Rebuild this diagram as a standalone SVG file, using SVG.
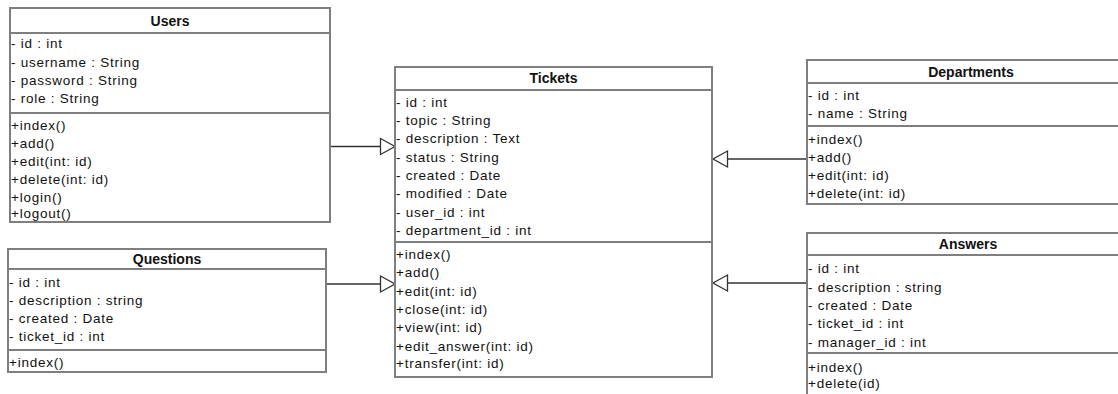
<svg xmlns="http://www.w3.org/2000/svg" width="1118" height="394" viewBox="0 0 1118 394">
<style>
.box{fill:#fff;stroke:#7f7f7f;stroke-width:2}
.sep{stroke:#7f7f7f;stroke-width:2}
.t{font-family:"Liberation Sans",Arial,sans-serif;font-size:13.5px;letter-spacing:0.75px;fill:#111}
.h{font-family:"Liberation Sans",Arial,sans-serif;font-size:14px;font-weight:bold;fill:#111;text-anchor:middle}
.c{stroke:#333;stroke-width:1.3;fill:none}
</style>
<defs>
<marker id="tri" markerUnits="userSpaceOnUse" markerWidth="16" markerHeight="18" refX="15" refY="8.5" orient="auto" overflow="visible">
<path d="M0.5,0.5 L15,8.5 L0.5,16.5 Z" fill="#fff" stroke="#333" stroke-width="1.3"/>
</marker>
</defs>
<rect width="1118" height="394" fill="#fff"/>
<g id="connectors">
<line class="c" x1="330" y1="146.5" x2="395" y2="146.5" marker-end="url(#tri)"/>
<line class="c" x1="326" y1="284" x2="395" y2="284" marker-end="url(#tri)"/>
<line class="c" x1="807" y1="159" x2="713" y2="159" marker-end="url(#tri)"/>
<line class="c" x1="807" y1="283" x2="713" y2="283" marker-end="url(#tri)"/>
</g>
<g id="users">
<rect class="box" x="10" y="8" width="320" height="214"/>
<line class="sep" x1="10" y1="33" x2="330" y2="33"/>
<line class="sep" x1="10" y1="113" x2="330" y2="113"/>
<text class="h" x="170" y="26">Users</text>
<text class="t" x="11" y="48">- id : int</text>
<text class="t" x="11" y="67">- username : String</text>
<text class="t" x="11" y="85">- password : String</text>
<text class="t" x="11" y="103">- role : String</text>
<text class="t" x="11" y="130">+index()</text>
<text class="t" x="11" y="148">+add()</text>
<text class="t" x="11" y="166">+edit(int: id)</text>
<text class="t" x="11" y="184">+delete(int: id)</text>
<text class="t" x="11" y="202">+login()</text>
<text class="t" x="11" y="218">+logout()</text>
</g>
<g id="questions">
<rect class="box" x="8" y="249" width="318" height="123"/>
<line class="sep" x1="8" y1="269" x2="326" y2="269"/>
<line class="sep" x1="8" y1="350" x2="326" y2="350"/>
<text class="h" x="167" y="264">Questions</text>
<text class="t" x="9" y="287">- id : int</text>
<text class="t" x="9" y="305">- description : string</text>
<text class="t" x="9" y="323">- created : Date</text>
<text class="t" x="9" y="341">- ticket_id : int</text>
<text class="t" x="9" y="367">+index()</text>
</g>
<g id="tickets">
<rect class="box" x="395" y="67" width="317" height="310"/>
<line class="sep" x1="395" y1="90" x2="712" y2="90"/>
<line class="sep" x1="395" y1="242" x2="712" y2="242"/>
<text class="h" x="553.5" y="83">Tickets</text>
<text class="t" x="396" y="107">- id : int</text>
<text class="t" x="396" y="125">- topic : String</text>
<text class="t" x="396" y="143">- description : Text</text>
<text class="t" x="396" y="162">- status : String</text>
<text class="t" x="396" y="180">- created : Date</text>
<text class="t" x="396" y="198">- modified : Date</text>
<text class="t" x="396" y="217">- user_id : int</text>
<text class="t" x="396" y="235">- department_id : int</text>
<text class="t" x="396" y="259">+index()</text>
<text class="t" x="396" y="277">+add()</text>
<text class="t" x="396" y="296">+edit(int: id)</text>
<text class="t" x="396" y="314">+close(int: id)</text>
<text class="t" x="396" y="332">+view(int: id)</text>
<text class="t" x="396" y="351">+edit_answer(int: id)</text>
<text class="t" x="396" y="368">+transfer(int: id)</text>
</g>
<g id="departments">
<rect class="box" x="807" y="60" width="330" height="144"/>
<line class="sep" x1="807" y1="83" x2="1137" y2="83"/>
<line class="sep" x1="807" y1="126" x2="1137" y2="126"/>
<text class="h" x="971" y="77">Departments</text>
<text class="t" x="808" y="100">- id : int</text>
<text class="t" x="808" y="118">- name : String</text>
<text class="t" x="808" y="144">+index()</text>
<text class="t" x="808" y="162">+add()</text>
<text class="t" x="808" y="180">+edit(int: id)</text>
<text class="t" x="808" y="198">+delete(int: id)</text>
</g>
<g id="answers">
<rect class="box" x="807" y="233" width="330" height="180"/>
<line class="sep" x1="807" y1="255" x2="1137" y2="255"/>
<line class="sep" x1="807" y1="353" x2="1137" y2="353"/>
<text class="h" x="968" y="249">Answers</text>
<text class="t" x="808" y="273">- id : int</text>
<text class="t" x="808" y="292">- description : string</text>
<text class="t" x="808" y="310">- created : Date</text>
<text class="t" x="808" y="328">- ticket_id : int</text>
<text class="t" x="808" y="347">- manager_id : int</text>
<text class="t" x="808" y="372">+index()</text>
<text class="t" x="808" y="388">+delete(id)</text>
</g>
</svg>
